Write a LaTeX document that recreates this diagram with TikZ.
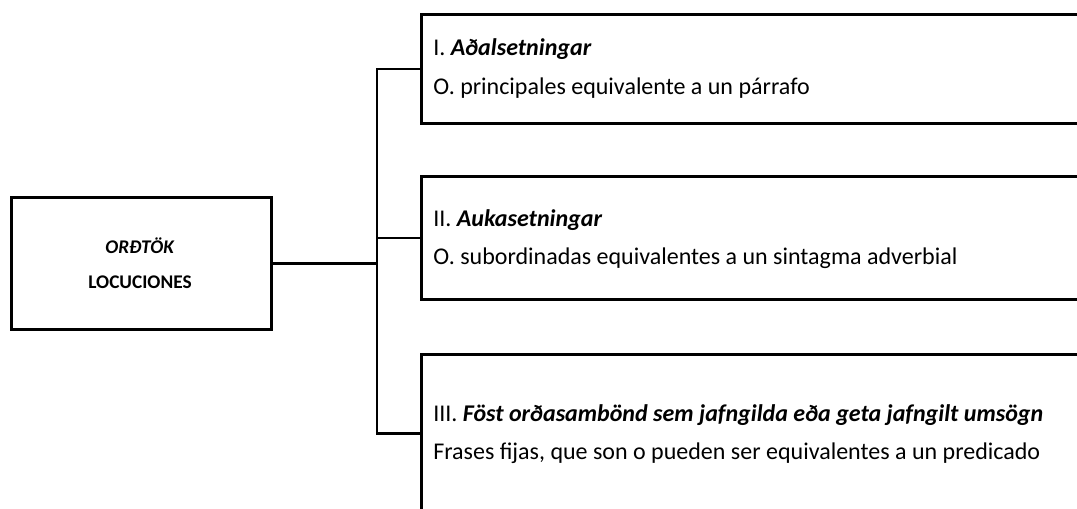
\documentclass[tikz,border=0pt]{standalone}
\usepackage{fontspec}
\setmainfont{Carlito}
\begin{document}
\begin{tikzpicture}[x=0.75pt,y=-0.75pt,
  box/.style={draw=black, line width=2.2pt, inner sep=0pt, anchor=north west},
  txt/.style={anchor=base west, inner sep=0pt, font=\fontsize{18}{21}\selectfont},
  ltxt/.style={anchor=base, inner sep=0pt, font=\fontsize{14.5}{17}\selectfont\bfseries},
  conn/.style={draw=black, line width=2.2pt}]
\useasboundingbox (0,0) rectangle (1077,508);
\clip (0,0) rectangle (1077,508);
\node[box, minimum width=195pt, minimum height=99pt] (L) at (10,196) {};
\node[box, minimum width=600pt, minimum height=81.75pt] (b1) at (420,13) {};
\node[box, minimum width=600pt, minimum height=92.25pt] (b2) at (420,175) {};
\node[box, minimum width=600pt, minimum height=118.5pt] (b3) at (420,353) {};
\coordinate (bx) at (377,0);
\draw[conn] (L.east) -- (L.east -| bx);
\draw[conn] (b1.west) -- (b1.west -| bx) -- (b3.west -| bx) -- (b3.west);
\draw[conn] (b2.west -| bx) -- (b2.west);
\node[txt] (t1a) at (433,55) {I. \textbf{\textit{Aðalsetningar}}};
\node[txt] (t1b) at (433,94) {O. principales equivalente a un párrafo};
\node[txt] (t2a) at (433,226) {II. \textbf{\textit{Aukasetningar}}};
\node[txt] (t2b) at (433,264) {O. subordinadas equivalentes a un sintagma adverbial};
\node[txt] (t3a) at (433,421) {III. \textbf{\textit{Föst orðasambönd sem jafngilda eða geta jafngilt umsögn}}};
\node[txt] (t3b) at (433,459) {Frases fijas, que son o pueden ser equivalentes a un predicado};
\node[ltxt] (l1) at (140,253) {\textit{ORÐTÖK}};
\node[ltxt] (l2) at (140,288) {LOCUCIONES};
\end{tikzpicture}
\end{document}
